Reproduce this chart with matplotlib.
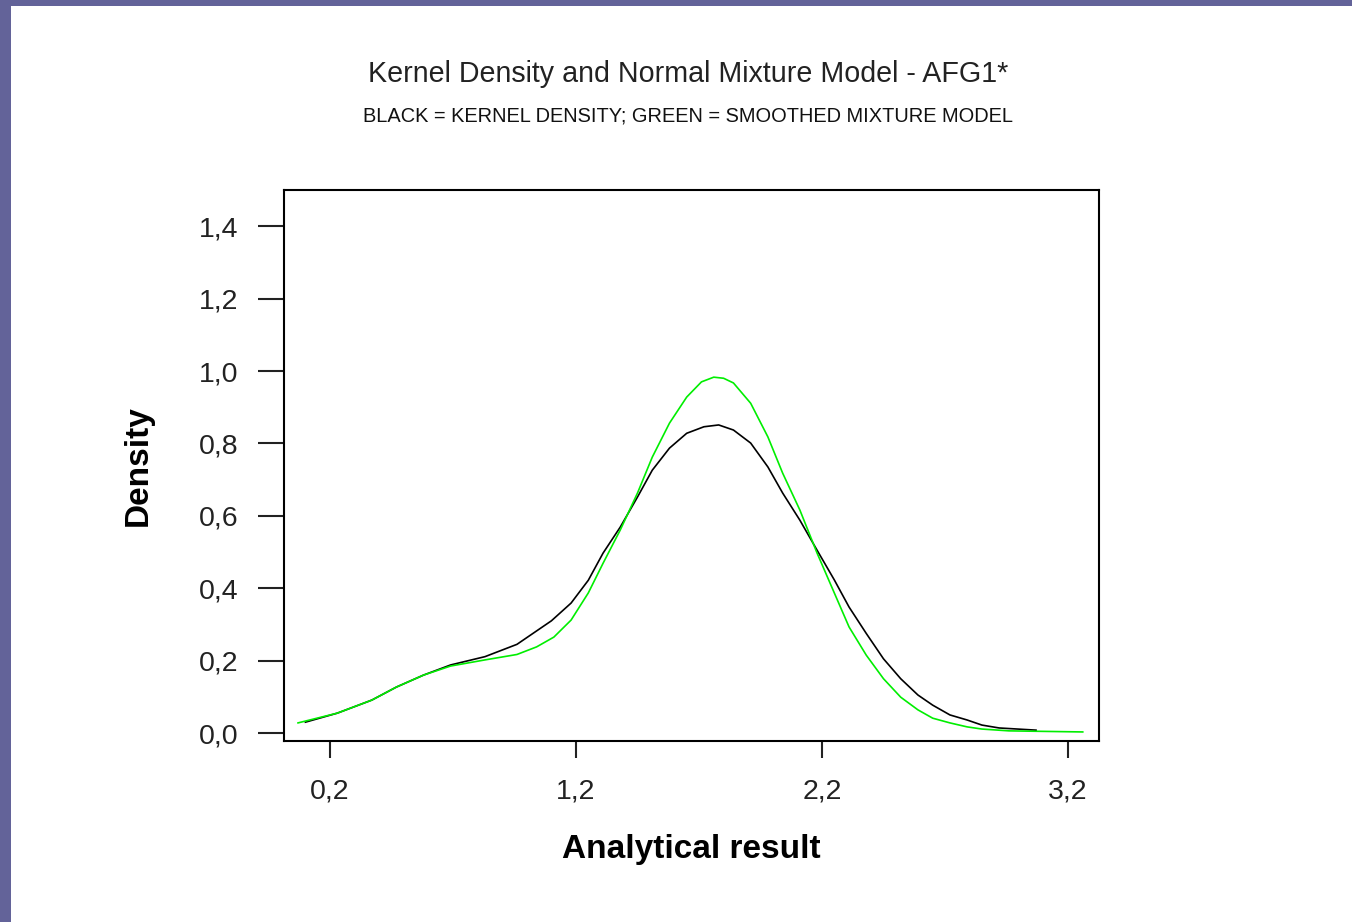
import matplotlib.pyplot as plt
from matplotlib.patches import Rectangle

# kernel density estimate (black)
kde_x = [0.10, 0.23, 0.37, 0.47, 0.58, 0.69, 0.83, 0.96, 1.10, 1.18, 1.25, 1.31, 1.38,
         1.45, 1.51, 1.58, 1.65, 1.72, 1.78, 1.84, 1.91, 1.98, 2.04, 2.11, 2.18, 2.25,
         2.31, 2.38, 2.45, 2.52, 2.59, 2.65, 2.72, 2.79, 2.85, 2.92, 3.07]
kde_y = [0.030, 0.055, 0.091, 0.127, 0.160, 0.188, 0.211, 0.245, 0.310, 0.359, 0.422,
         0.497, 0.569, 0.652, 0.726, 0.787, 0.828, 0.846, 0.851, 0.837, 0.801, 0.735,
         0.663, 0.588, 0.505, 0.423, 0.348, 0.275, 0.205, 0.150, 0.105, 0.077, 0.050,
         0.036, 0.022, 0.014, 0.008]

# smoothed normal mixture model (green)
mix_x = [0.07, 0.23, 0.37, 0.47, 0.58, 0.69, 0.83, 0.96, 1.04, 1.11, 1.18, 1.25, 1.31,
         1.38, 1.45, 1.51, 1.58, 1.65, 1.71, 1.76, 1.80, 1.84, 1.91, 1.98, 2.04, 2.11,
         2.18, 2.25, 2.31, 2.38, 2.45, 2.52, 2.59, 2.65, 2.72, 2.79, 2.85, 2.96, 3.26]
mix_y = [0.028, 0.055, 0.091, 0.127, 0.160, 0.185, 0.202, 0.217, 0.238, 0.265, 0.312,
         0.387, 0.469, 0.561, 0.663, 0.762, 0.856, 0.928, 0.970, 0.983, 0.980, 0.967,
         0.911, 0.818, 0.718, 0.616, 0.497, 0.387, 0.293, 0.215, 0.150, 0.099, 0.064,
         0.041, 0.028, 0.017, 0.011, 0.006, 0.003]

xticks = [0.2, 1.2, 2.2, 3.2]
yticks = [0.0, 0.2, 0.4, 0.6, 0.8, 1.0, 1.2, 1.4]

plt.rcParams['font.family'] = ['Liberation Sans', 'DejaVu Sans']

fig = plt.figure(figsize=(13.52, 9.22), dpi=100)
fig.patch.set_facecolor('#636399')
# white page inside the purple frame
fig.patches.append(Rectangle((11 / 1352, 0), 1, 1 - 6 / 922, transform=fig.transFigure,
                             facecolor='white', edgecolor='none', zorder=-10))

ax = fig.add_axes([284 / 1352, 181 / 922, 815 / 1352, 551 / 922])
ax.plot(kde_x, kde_y, color='black', lw=1.2)
ax.plot(mix_x, mix_y, color='#00ee00', lw=1.2)

ax.set_xlim(0.013, 3.326)
ax.set_ylim(-0.022, 1.5)
ax.set_xticks(xticks)
ax.set_xticklabels([f'{t:.1f}'.replace('.', ',') for t in xticks])
ax.set_yticks(yticks)
ax.set_yticklabels([f'{t:.1f}'.replace('.', ',') for t in yticks])

for s in ax.spines.values():
    s.set_linewidth(1.5)
ax.tick_params(axis='y', direction='out', length=19, width=1.5, pad=14, labelsize=20.5, colors='#222222')
ax.tick_params(axis='x', direction='out', length=12, width=1.5, pad=15, labelsize=20.5, colors='#222222')

ax.set_xlabel('Analytical result', fontsize=24, fontweight='bold', labelpad=21)
ax.set_ylabel('Density', fontsize=24, fontweight='bold', labelpad=32)

fig.text(688, 922 - 74, 'Kernel Density and Normal Mixture Model - AFG1*',
         transform=None, ha='center', va='center', fontsize=20.6, color='#222222')
fig.text(688, 922 - 116, 'BLACK = KERNEL DENSITY; GREEN = SMOOTHED MIXTURE MODEL',
         transform=None, ha='center', va='center', fontsize=14.4, color='#111111')

plt.savefig('out.png', dpi=100)
